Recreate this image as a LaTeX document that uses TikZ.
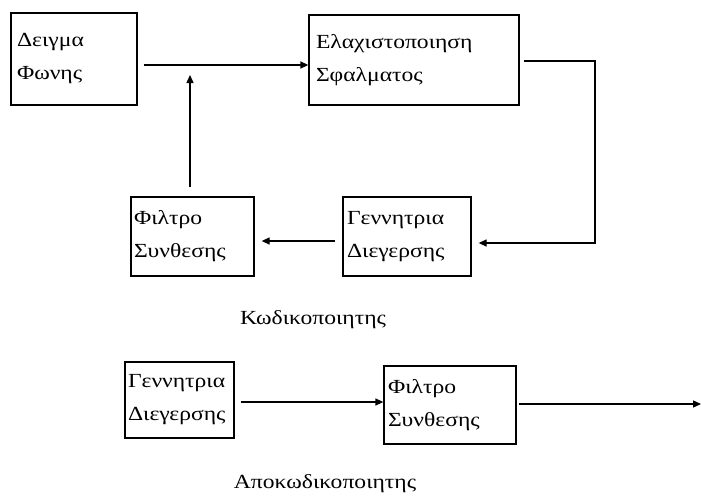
\documentclass[tikz,border=0pt]{standalone}
\usepackage{fontspec}
\setmainfont[FakeStretch=1.18]{Liberation Serif}
\usetikzlibrary{arrows.meta,calc}
\tikzset{
  box/.style={draw, line width=1.3pt, rectangle, inner sep=0pt, align=left,
    font=\fontsize{20}{33}\selectfont},
  arr/.style={line width=1.3pt, -{Triangle[length=8pt,width=7pt]}},
  lbl/.style={font=\fontsize{20}{24}\selectfont, inner sep=0pt}
}
\begin{document}
\begin{tikzpicture}[x=1pt,y=-1pt]
\useasboundingbox[fill=white] (0,0) rectangle (701,498);
% encoder
\node[box, minimum width=126pt, minimum height=92pt, text width=114pt] (dm) at (74,59) {Δειγμα\\Φωνης};
\node[box, minimum width=210pt, minimum height=90pt, text width=196pt] (el) at (414,60) {Ελαχιστοποιηση\\Σφαλματος};
\node[box, minimum width=128pt, minimum height=79pt, text width=120pt] (ge) at (407,236.5) {Γεννητρια\\Διεγερσης};
\node[box, minimum width=123pt, minimum height=79pt, text width=117pt] (fs) at (192.5,236.5) {Φιλτρο\\Συνθεσης};
\node[lbl] (kw) at (313,320) {Κωδικοποιητης};
% decoder
\node[box, minimum width=109pt, minimum height=76pt, text width=103pt] (ge2) at (179.5,400) {Γεννητρια\\Διεγερσης};
\node[box, minimum width=132pt, minimum height=78pt, text width=124pt] (fs2) at (450,405) {Φιλτρο\\Συνθεσης};
\node[lbl] (ak) at (325,484) {Αποκωδικοποιητης};
% connectors
\coordinate (fbtip) at (190,75);
\coordinate (rc1) at (595,61);
\coordinate (rc2) at (595,243);
\coordinate (out) at (701,404);
\draw[arr] ([xshift=6pt,yshift=-6pt]dm.east) -- ([yshift=-5pt]el.west);
\draw[arr] ([yshift=9pt]fs.north -| fbtip) -- (fbtip);
\draw[arr] ([xshift=4pt,yshift=-1pt]el.east) -- (rc1) -- (rc2) -- ([xshift=7pt,yshift=-6.5pt]ge.east);
\draw[arr] ([xshift=-7pt,yshift=-4.5pt]ge.west) -- ([xshift=7pt,yshift=-4.5pt]fs.east);
\draw[arr] ([xshift=6pt,yshift=-2pt]ge2.east) -- ([yshift=3pt]fs2.west);
\draw[arr] ([xshift=2pt,yshift=1pt]fs2.east) -- (out);
\end{tikzpicture}
\end{document}
